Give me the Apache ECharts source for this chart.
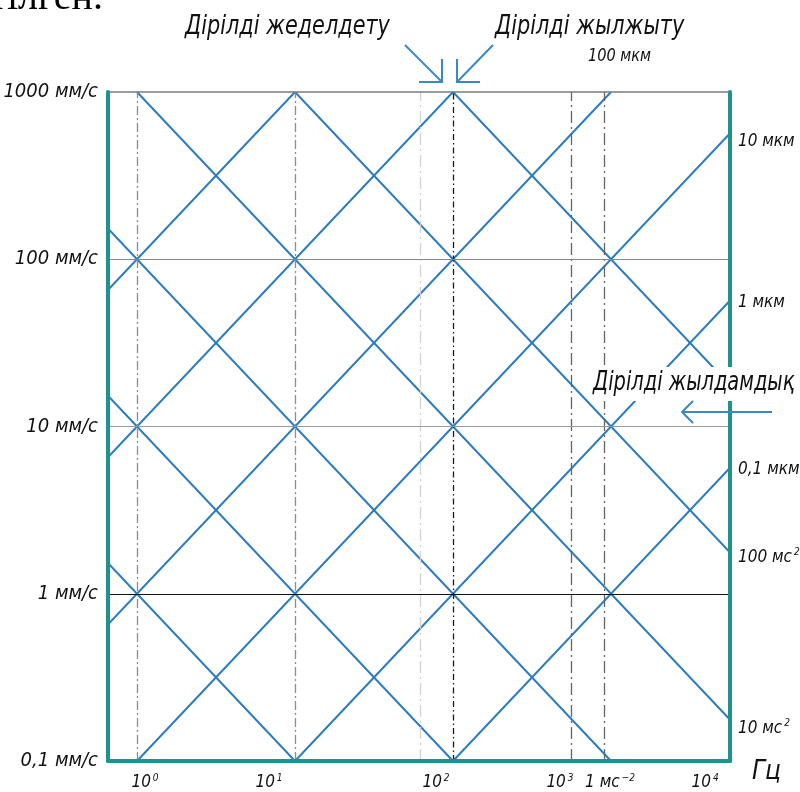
<!DOCTYPE html>
<html>
<head>
<meta charset="utf-8">
<script src="https://cdn.jsdelivr.net/npm/echarts@6/dist/echarts.min.js"></script>
<style>
  html, body { margin: 0; padding: 0; background: #fff; }
  #chart { width: 800px; height: 792px; }
</style>
</head>
<body>
<div id="chart"></div>
<script>
// Vibration nomogram: velocity (mm/s) against frequency (Hz), log-log,
// with lines of constant displacement (rising) and constant acceleration (falling).

// Axis extents
const freqMin = 0.6553;
const freqMax = 5664;
const velMin = 0.1;
const velMax = 1000;

// Velocity ticks and their labels
const velocityTicks = [0.1, 1, 10, 100, 1000];
const velocityLabels = ['0,1 мм/с', '1 мм/с', '10 мм/с', '100 мм/с', '1000 мм/с'];

// Constant-displacement lines (velocity grows with frequency): pairs of [Hz, mm/s]
const risingLines = [
  [[0.1, 10], [10, 1000]],
  [[0.1, 1], [100, 1000]],
  [[0.1, 0.1], [1000, 1000]],
  [[1, 0.1], [10000, 1000]],
  [[10, 0.1], [10000, 100]],
  [[100, 0.1], [10000, 10]]
];

// Constant-acceleration lines (velocity falls with frequency)
const fallingLines = [
  [[0.1, 10], [10, 0.1]],
  [[0.1, 100], [100, 0.1]],
  [[0.1, 1000], [1000, 0.1]],
  [[1, 1000], [10000, 0.1]],
  [[10, 1000], [10000, 1]],
  [[100, 1000], [10000, 10]]
];

// Vertical guide lines (Hz) and horizontal guide lines (mm/s)
const guideFreqs = [1, 10, 61.8, 100, 558, 903];
const guideVels = [1000, 100, 10, 1];

// Frequency axis labels: anchor frequency, main text, superscript
const freqLabelAnchors = [1, 10, 100, 558, 903, 3936];
const freqLabelMain = ['10', '10', '10', '10', '1 мс', '10'];
const freqLabelSup = ['0', '1', '2', '3', '−2', '4'];

// Labels along the right edge: velocity where each sits, text, superscript
const edgeLabelVels = [502, 54.7, 5.5, 1.64, 0.157];
const edgeLabelMain = ['10 мкм', '1 мкм', '0,1 мкм', '100 мс', '10 мс'];
const edgeLabelSup = ['', '', '', '2', '2'];

// ---- styling ----
const FONT = '"DejaVu Sans Condensed", "Liberation Sans Narrow", "DejaVu Sans", sans-serif';
const C_LINE = '#2c7cbf';
const C_AXIS = '#1f918e';
const C_ARROW = '#3a88c6';
const TEXT = '#111111';

const guideStyles = [
  { color: '#8c8c8c', type: [9, 3, 2, 3], width: 1.3 },
  { color: '#8c8c8c', type: [9, 3, 2, 3], width: 1.3 },
  { color: '#d2d2d2', type: [12, 4, 2, 4], width: 1.3 },
  { color: '#1a1a1a', type: [6, 3, 1.5, 3], width: 1.3 },
  { color: '#666666', type: [12, 4, 2, 4], width: 1.3 },
  { color: '#666666', type: [12, 4, 2, 4], width: 1.3 }
];
const gridStyles = [
  { color: '#7a7a7a', width: 1.5, type: 'solid' },
  { color: '#8a8a8a', width: 1.2, type: 'solid' },
  { color: '#9a9a9a', width: 1.2, type: 'solid' },
  { color: '#111111', width: 1.2, type: 'solid' }
];
const freqLabelOffsets = [8, -26, -17, -11, 6, 0];

const richText = {
  m: { fontFamily: FONT, fontStyle: 'italic', fontSize: 17, color: TEXT, lineHeight: 20, verticalAlign: 'middle' },
  s: { fontFamily: FONT, fontStyle: 'italic', fontSize: 10, color: TEXT, lineHeight: 6, verticalAlign: 'top', padding: [0, 0, 0, 2] }
};

const chart = echarts.init(document.getElementById('chart'));

const diagonalSeries = risingLines.concat(fallingLines).map(pts => ({
  type: 'line',
  data: pts,
  symbol: 'none',
  silent: true,
  clip: true,
  z: 3,
  lineStyle: { color: C_LINE, width: 2 }
}));

const guideSeries = {
  type: 'line',
  data: [],
  silent: true,
  z: 1,
  markLine: {
    silent: true,
    symbol: ['none', 'none'],
    label: { show: false },
    animation: false,
    data: guideFreqs.map((f, i) => ({ xAxis: f, lineStyle: guideStyles[i] }))
      .concat(guideVels.map((v, i) => ({ yAxis: v, lineStyle: gridStyles[i] })))
  }
};

const freqLabelSeries = {
  type: 'scatter',
  symbolSize: 0,
  silent: true,
  clip: false,
  z: 6,
  itemStyle: { opacity: 1 },
  data: freqLabelAnchors.map((f, i) => ({
    value: [f, velMin],
    label: {
      show: true,
      position: 'bottom',
      distance: 12,
      color: TEXT,
      offset: [freqLabelOffsets[i], 0],
      formatter: '{m|' + freqLabelMain[i] + '}{s|' + freqLabelSup[i] + '}',
      rich: richText
    }
  }))
};

const edgeLabelSeries = {
  type: 'scatter',
  symbolSize: 0,
  silent: true,
  clip: false,
  z: 6,
  itemStyle: { opacity: 1 },
  data: edgeLabelVels.map((v, i) => ({
    value: [freqMax, v],
    label: {
      show: true,
      position: 'right',
      distance: 8,
      color: TEXT,
      formatter: '{m|' + edgeLabelMain[i] + '}' + (edgeLabelSup[i] ? '{s|' + edgeLabelSup[i] + '}' : ''),
      rich: richText
    }
  }))
};

function velocityLabel(v) {
  const k = velocityTicks.findIndex(t => Math.abs(Math.log10(t) - Math.log10(v)) < 1e-6);
  return k >= 0 ? velocityLabels[k] : '';
}

chart.setOption({
  animation: false,
  backgroundColor: '#ffffff',
  grid: { left: 108, right: 70, top: 92, bottom: 31 },
  xAxis: {
    type: 'log',
    logBase: 10,
    min: freqMin,
    max: freqMax,
    z: 5,
    axisLine: { show: true, onZero: false, lineStyle: { color: C_AXIS, width: 4 } },
    axisTick: { show: false },
    axisLabel: { show: false },
    splitLine: { show: false }
  },
  yAxis: [
    {
      type: 'log',
      logBase: 10,
      min: velMin,
      max: velMax,
      z: 5,
      axisLine: { show: true, onZero: false, lineStyle: { color: C_AXIS, width: 4 } },
      axisTick: { show: false },
      splitLine: { show: false },
      axisLabel: {
        margin: 10,
        color: TEXT,
        fontFamily: FONT,
        fontStyle: 'italic',
        fontSize: 20,
        formatter: velocityLabel
      }
    },
    {
      type: 'log',
      logBase: 10,
      min: velMin,
      max: velMax,
      position: 'right',
      z: 5,
      axisLine: { show: true, onZero: false, lineStyle: { color: C_AXIS, width: 4 } },
      axisTick: { show: false },
      axisLabel: { show: false },
      splitLine: { show: false }
    }
  ],
  series: [guideSeries].concat(diagonalSeries, [freqLabelSeries, edgeLabelSeries])
});

// Annotations: titles, arrows, units
const titleFont = 'italic 26px ' + FONT;
const smallFont = 'italic 17px ' + FONT;
const tip = chart.convertToPixel({ xAxisIndex: 0, yAxisIndex: 0 }, [100, 1000]);
const tx = tip[0] - 2, ty = tip[1];
const arrowStyle = { stroke: C_ARROW, lineWidth: 2, fill: null };

function caption(text, x, y, font, scale) {
  return {
    type: 'text', x: x, y: y, z: 60, scaleX: scale, scaleY: 1,
    style: { text: text, font: font, fill: TEXT, align: 'left', verticalAlign: 'middle' }
  };
}

chart.setOption({
  graphic: [
    { type: 'text', x: 103, y: 18, z: 60,
      style: { text: 'тілген.', font: '40px "Liberation Serif", serif', fill: '#000', align: 'right', verticalAlign: 'bottom' } },
    caption('Дірілді жеделдету', 185, 27, titleFont, 0.89),
    caption('Дірілді жылжыту', 495, 27, titleFont, 0.89),
    caption('100 мкм', 588, 57, smallFont, 0.95),
    // converging arrows above the 10² line
    { type: 'polyline', z: 60, shape: { points: [[tx - 46, ty - 47], [tx - 9, ty - 10]] }, style: arrowStyle },
    { type: 'polyline', z: 60, shape: { points: [[tx - 9, ty - 33], [tx - 9, ty - 10], [tx - 32, ty - 10]] }, style: arrowStyle },
    { type: 'polyline', z: 60, shape: { points: [[tx + 42, ty - 47], [tx + 6, ty - 10]] }, style: arrowStyle },
    { type: 'polyline', z: 60, shape: { points: [[tx + 6, ty - 33], [tx + 6, ty - 10], [tx + 29, ty - 10]] }, style: arrowStyle },
    // velocity caption on a white plate across the right edge
    { type: 'rect', z: 58, shape: { x: 590, y: 367, width: 210, height: 34 }, style: { fill: '#ffffff' } },
    caption('Дірілді жылдамдық', 593, 383, titleFont, 0.83),
    { type: 'polyline', z: 60, shape: { points: [[772, 412], [682, 412]] }, style: arrowStyle },
    { type: 'polyline', z: 60, shape: { points: [[693, 401], [682, 412], [693, 423]] }, style: arrowStyle },
    caption('Гц', 752, 772, titleFont, 1)
  ]
});
</script>
</body>
</html>
